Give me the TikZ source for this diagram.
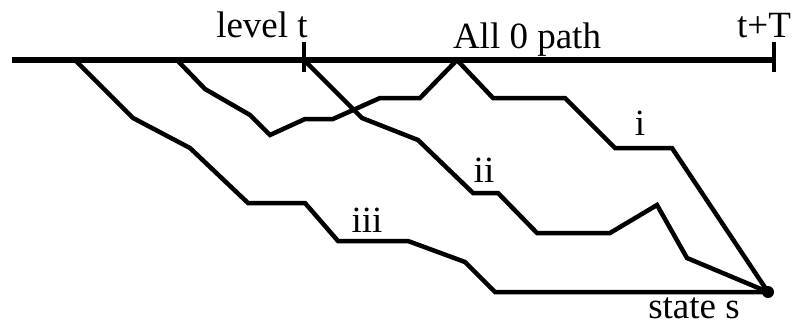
\documentclass[tikz,border=0pt]{standalone}
\usepackage{fontspec}
\setmainfont{Liberation Serif}
\begin{document}
\begin{tikzpicture}[x=1pt,y=-1pt,
  axisline/.style={line width=5.5pt},
  pathline/.style={line width=4.5pt,line join=miter},
  ticksty/.style={line width=4.5pt},
  lbl/.style={anchor=base,inner sep=0pt,font=\fontsize{37}{40}\selectfont}]
\useasboundingbox (0,0) rectangle (793,330);
% key points
\coordinate (L) at (12,60);
\coordinate (R) at (774,60);
\coordinate (lt) at (304,60);
\coordinate (s1) at (75,60);
\coordinate (s2) at (177,60);
\coordinate (z) at (457,60);
\coordinate (S) at (768,292);
% top line and ticks
\draw[axisline] (L) -- (R);
\draw[ticksty] ([yshift=-12pt]lt) -- ([yshift=18pt]lt);
\draw[ticksty] ([yshift=-12pt]R) -- ([yshift=18pt]R);
% path iii
\draw[pathline] (s1) -- (133,118) -- (190,148) -- (248,203) -- (305,203) -- (338,241)
  -- (408,241) -- (465,262) -- (495,292) -- (S);
% path i (via the all-0 path)
\draw[pathline] (s2) -- (205,89) -- (250,115) -- (270,135) -- (305,119) -- (333,119)
  -- (380,98) -- (420,98) -- (z) -- (493,98) -- (565,98) -- (615,148) -- (672,148) -- (S);
% path ii
\draw[pathline] (lt) -- (362,118) -- (418,140) -- (473,193) -- (498,193) -- (537,233)
  -- (610,233) -- (657,205) -- (687,258) -- (S);
% state s dot
\fill (S) circle (6pt);
% labels
\node[lbl] (nlevel) at (262,37) {level t};
\node[lbl] (nall) at (527,48) {All 0 path};
\node[lbl] (ntT) at (764,37) {t+T};
\node[lbl] (ni) at (640,135) {i};
\node[lbl] (nii) at (484,182) {ii};
\node[lbl] (niii) at (367,232) {iii};
\node[lbl] (nstate) at (694,318) {state s};
\end{tikzpicture}
\end{document}
